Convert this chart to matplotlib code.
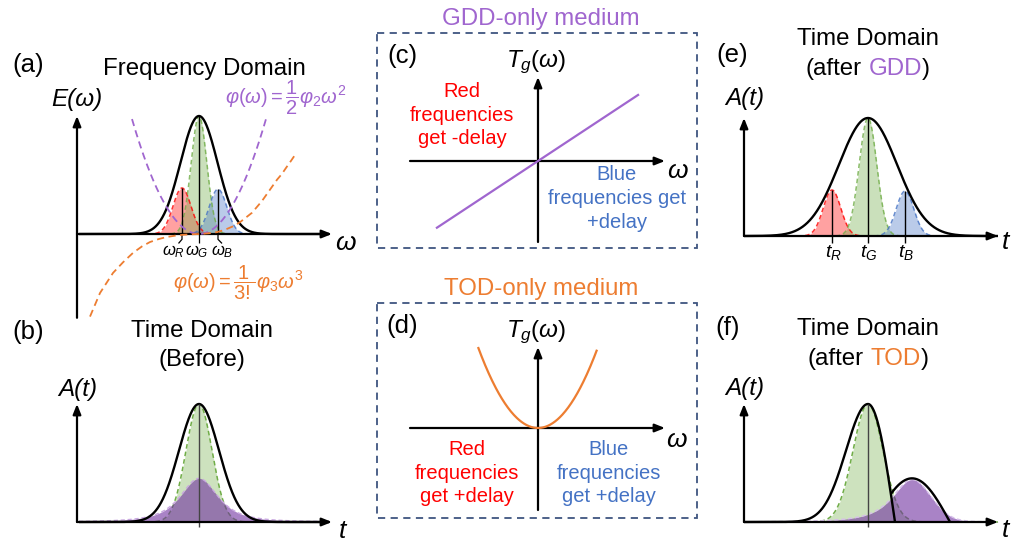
import numpy as np
import matplotlib
matplotlib.use('Agg')
import matplotlib.pyplot as plt
from matplotlib.patches import Rectangle

W, H = 1011, 544
plt.rcParams['font.family'] = ['Liberation Sans', 'DejaVu Sans']
plt.rcParams['mathtext.fontset'] = 'custom'
plt.rcParams['mathtext.rm'] = 'Liberation Sans'
plt.rcParams['mathtext.it'] = 'Liberation Sans:italic'
plt.rcParams['mathtext.bf'] = 'Liberation Sans:bold'
plt.rcParams['lines.solid_capstyle'] = 'butt'

# ------------------------------------------------------------------ data
# (a) frequency domain: spectral slices R, G, B  (center, width, amplitude)
slice_names = ['R', 'G', 'B']
freq_centers = [-1.7, 0.0, 1.9]
freq_widths = [0.9, 0.78, 0.88]
freq_amps = [0.39, 1.0, 0.38]
spectrum_width = 1.85
phi2 = 0.0434                      # GDD phase: 1/2 * phi2 * w^2
gdd_phase_range = [-6.7, 6.8]
tod_phase_w = [-10.9, -9.9, -8.6, -7.6, -6.6, -5.7, -4.9, -4.0, -3.2, -2.3, -1.5,
               -0.6, 0.1, 1.0, 1.8, 2.6, 3.4, 4.1, 4.7, 5.3, 5.8, 6.3, 6.8, 7.3,
               7.8, 8.3, 8.7, 9.2, 9.6]
tod_phase = [-0.70, -0.50, -0.33, -0.24, -0.16, -0.105, -0.068, -0.042, -0.025,
             -0.013, -0.006, -0.002, 0.0, 0.006, 0.016, 0.036, 0.065, 0.10, 0.14,
             0.18, 0.23, 0.28, 0.34, 0.40, 0.46, 0.51, 0.56, 0.62, 0.67]

# (b) time domain before
before_env_width = 2.0
before_green_width = 1.3
before_purple_amp = 0.37
before_purple_scale = 2.9

# (c) GDD group delay, (d) TOD group delay
gdd_slope = 0.66
gdd_delay_range = [-10.2, 10.1]
tod_curv = 0.225
tod_delay_range = [-6.0, 5.9]

# (e) time domain after GDD
gdd_env_width = 2.9
time_centers = [-3.6, 0.0, 3.7]
time_widths = [0.88, 0.88, 0.88]
time_amps = [0.39, 1.0, 0.38]

# (f) time domain after TOD
tod_main_left_width = 2.2
tod_main_zero = 2.7
tod_side_start, tod_side_end, tod_side_amp = 0.6, 8.2, 0.37
tod_green_width = 1.5
tod_purple_center, tod_purple_amp = 4.4, 0.36
tod_purple_left, tod_purple_right = 3.0, 1.9

# ------------------------------------------------------------------ colours
RED = '#FF0000'
GREEN = '#70AD47'
BLUE = '#4472C4'
PURPLE = '#A066CF'
DPURPLE = '#7030A0'
ORANGE = '#ED7D31'
BOX = '#3F5580'

fig = plt.figure(figsize=(W / 100, H / 100), dpi=100)
ov = fig.add_axes([0, 0, 1, 1])
ov.set_xlim(0, W)
ov.set_ylim(H, 0)
ov.axis('off')


def panel(left, top, right, bottom, ox, oy, ux=10.0, uy=118.0):
    ax = fig.add_axes([left / W, 1 - bottom / H, (right - left) / W, (bottom - top) / H])
    ax.set_xlim((left - ox) / ux, (right - ox) / ux)
    ax.set_ylim((oy - bottom) / uy, (oy - top) / uy)
    ax.axis('off')
    ax.patch.set_visible(False)
    return ax


def arrow(ax, x0, y0, x1, y1):
    ax.annotate('', xy=(x1, y1), xytext=(x0, y0),
                arrowprops=dict(arrowstyle='-|>,head_length=0.6,head_width=0.24',
                                color='k', lw=1.6, shrinkA=0, shrinkB=0), zorder=5)


def gauss(x, c, s, a):
    return a * np.exp(-(x - c) ** 2 / (2 * s ** 2))


def slice_fill(ax, x, y, col, alpha=0.37):
    ax.fill_between(x, 0, y, color=col, alpha=alpha, lw=0, zorder=2)
    ax.plot(x, y, color=col, lw=1.1, ls=(0, (3, 2)), alpha=0.8, zorder=3)


def text(x, y, s, size, color='k', ha='center', va='baseline', **kw):
    return ov.text(x, y, s, fontsize=size, color=color, ha=ha, va=va, **kw)


def mixed(xc, yb, parts, size):
    r = fig.canvas.get_renderer()
    objs = [text(0, yb, s, size, c, ha='left') for s, c in parts]
    ws = [o.get_window_extent(r).width for o in objs]
    sp = 0.28 * size * 100 / 72
    total = sum(ws) + sp
    x = xc - total / 2
    for i, (o, w) in enumerate(zip(objs, ws)):
        o.set_x(x)
        x += w + (sp if i == 0 else 0)


TS = 17.3   # title size
LS = 18.5   # panel letter size
DS = 14.5   # description size
AS = 17.5   # axis label size

# ------------------------------------------------------------------ (a)
ax = panel(40, 100, 360, 325, 199, 234)
w = np.linspace(-12, 13, 1500)
for c, s, a, col in zip(freq_centers, freq_widths, freq_amps, [RED, GREEN, BLUE]):
    slice_fill(ax, w, gauss(w, c, s, a), col)
    ax.plot([c, c], [0, a], color='k', lw=1.0, zorder=4)
ax.plot(w, gauss(w, 0, spectrum_width, 1.0), color='k', lw=1.7, zorder=4)
wg = np.linspace(*gdd_phase_range, 200)
ax.plot(wg, 0.5 * phi2 * wg ** 2, color=PURPLE, lw=1.3, ls=(0, (4, 2.5)), zorder=6)
ax.plot(tod_phase_w, tod_phase, color=ORANGE, lw=1.3, ls=(0, (4, 2.5)), zorder=6)
arrow(ax, -12.2, -0.71, -12.2, 1.0)
arrow(ax, -12.2, 0, 13.3, 0)
# leader lines from the axis to the slice labels
for c, dx in zip(freq_centers, [-0.35, 0.0, 0.4]):
    ax.plot([c, c, c + dx], [0, -0.045, -0.08], color='k', lw=0.9, zorder=5)

text(28, 72, '(a)', LS)
text(204, 75, 'Frequency Domain', TS)
text(77, 106, 'E(ω)', AS, style='italic')
text(345, 243, 'ω', 19, va='center', style='italic')
for xc, n in zip([173, 197, 222], slice_names):
    text(xc, 255, r'$\omega_%s$' % n, 12)
text(225, 98, r'$\varphi(\omega)=\dfrac{1}{2}\varphi_2\omega^2$', 14.5, PURPLE, ha='left', va='center')
text(173, 283, r'$\varphi(\omega)=\dfrac{1}{3!}\varphi_3\omega^3$', 14.5, ORANGE, ha='left', va='center')

# ------------------------------------------------------------------ (b)
ax = panel(40, 390, 360, 540, 199, 522)
t = np.linspace(-12, 13, 1500)
green_b = gauss(t, 0, before_green_width, 1.0)
ax.fill_between(t, 0, green_b, color=GREEN, alpha=0.35, lw=0, zorder=2)
ax.plot(t, green_b, color=GREEN, lw=1.1, ls=(0, (3, 2)), zorder=3)
purple_b = before_purple_amp * (1 + (t / before_purple_scale) ** 2) ** -1.5
ax.fill_between(t, 0, purple_b, color=DPURPLE, alpha=0.6, lw=0, zorder=3)
ax.plot(t, purple_b, color='#C9A8E0', lw=1.0, ls=(0, (3, 2)), zorder=3)
ax.plot(t, gauss(t, 0, before_env_width, 1.0), color='k', lw=1.7, zorder=4)
ax.plot([0, 0], [-0.04, 1.0], color='#444444', lw=1.0, zorder=4)
arrow(ax, -12.2, 0, -12.2, 1.0)
arrow(ax, -12.2, 0, 13.3, 0)
text(28, 339, '(b)', LS)
text(202, 337, 'Time Domain', TS)
text(202, 366, '(Before)', TS)
text(78, 396, 'A(t)', AS, style='italic')
text(342, 531, 't', 19, va='center', style='italic')

# ------------------------------------------------------------------ (c)
ov.add_patch(Rectangle((377, 33), 320, 215, fill=False, ec=BOX, lw=1.3, ls=(0, (4, 3))))
ax = panel(380, 60, 695, 246, 538, 161, 10, 10)
arrow(ax, 0, -8.1, 0, 8.4)
arrow(ax, -12.8, 0, 12.7, 0)
wd = np.linspace(*gdd_delay_range, 50)
ax.plot(wd, gdd_slope * wd, color=PURPLE, lw=1.6, zorder=6)
text(541, 25, 'GDD-only medium', TS, PURPLE)
text(402, 63, '(c)', LS)
text(536, 67, r'$\mathit{T_g(\omega)}$', 17.5)
text(677, 171, 'ω', 19, va='center', style='italic')
for yb, s in zip([97, 121, 144], ['Red', 'frequencies', 'get -delay']):
    text(462, yb, s, DS, RED)
for yb, s in zip([180, 204, 228], ['Blue', 'frequencies get', '+delay']):
    text(617, yb, s, DS, BLUE)

# ------------------------------------------------------------------ (d)
ov.add_patch(Rectangle((377, 303), 320, 215, fill=False, ec=BOX, lw=1.3, ls=(0, (4, 3))))
ax = panel(380, 330, 695, 516, 538, 428, 10, 10)
arrow(ax, 0, -8.2, 0, 8.1)
arrow(ax, -12.8, 0, 12.7, 0)
wd = np.linspace(*tod_delay_range, 200)
ax.plot(wd, tod_curv * wd ** 2, color=ORANGE, lw=1.6, zorder=6)
text(541, 295, 'TOD-only medium', TS, ORANGE)
text(402, 333, '(d)', LS)
text(536, 337, r'$\mathit{T_g(\omega)}$', 17.5)
text(676, 440, 'ω', 19, va='center', style='italic')
for yb, s in zip([455, 479, 502], ['Red', 'frequencies', 'get +delay']):
    text(467, yb, s, DS, RED)
for yb, s in zip([455, 479, 502], ['Blue', 'frequencies', 'get +delay']):
    text(609, yb, s, DS, BLUE)

# ------------------------------------------------------------------ (e)
ax = panel(710, 100, 1011, 270, 868, 236)
t = np.linspace(-12.4, 13, 1500)
for c, s, a, col in zip(time_centers, time_widths, time_amps, [RED, GREEN, BLUE]):
    slice_fill(ax, t, gauss(t, c, s, a), col)
    ax.plot([c, c], [-0.06, a], color='k', lw=1.0, zorder=4)
ax.plot(t, gauss(t, 0, gdd_env_width, 1.0), color='k', lw=1.7, zorder=4)
arrow(ax, -12.4, 0, -12.4, 1.0)
arrow(ax, -12.4, 0, 13.0, 0)
text(732, 62, '(e)', LS)
text(868, 45, 'Time Domain', TS)
mixed(868, 75, [('(after', 'k'), ('GDD', PURPLE), (')', 'k')], TS)
text(745, 105, 'A(t)', AS, style='italic')
text(1005, 242, 't', 19, va='center', style='italic')
for xc, n in zip(time_centers, slice_names):
    text(868 + xc * 10 + 1, 257, r'$t_%s$' % n, 14)

# ------------------------------------------------------------------ (f)
ax = panel(710, 390, 1011, 540, 868, 522)
t = np.linspace(-12.4, 13, 2500)
green_f = gauss(t, 0, tod_green_width, 1.0)
ax.fill_between(t, 0, green_f, color=GREEN, alpha=0.35, lw=0, zorder=2)
ax.plot(t, green_f, color=GREEN, lw=1.1, ls=(0, (3, 2)), zorder=3)
d = t - tod_purple_center
purple_f = np.where(d < 0,
                    tod_purple_amp * (1 + (d / tod_purple_left) ** 2) ** -1.5,
                    tod_purple_amp * (0.9 * np.exp(-d ** 2 / (2 * tod_purple_right ** 2))
                                      + 0.1 / (1 + (d / 2.0) ** 2)))
ax.fill_between(t, 0, purple_f, color=DPURPLE, alpha=0.6, lw=0, zorder=3)
ax.plot(t, purple_f, color='#D6BEEA', lw=1.0, ls=(0, (3, 2)), zorder=3)
main = np.where(t < 0, np.exp(-t ** 2 / (2 * tod_main_left_width ** 2)),
                np.where(t < tod_main_zero, np.cos(np.pi / 2 * t / tod_main_zero), 0.0))
tm = t <= tod_main_zero
ax.plot(t[tm], main[tm], color='k', lw=1.7, zorder=4)
side = np.where((t > tod_side_start) & (t < tod_side_end),
                tod_side_amp * np.sin(np.pi * (t - tod_side_start) / (tod_side_end - tod_side_start)), 0)
sm = (side >= main) & (t > tod_side_start) & (t <= tod_side_end)
ax.plot(t[sm], side[sm], color='k', lw=1.7, zorder=4)
ax.plot([0, 0], [-0.04, 1.0], color='#444444', lw=1.0, zorder=4)
arrow(ax, -12.4, 0, -12.4, 1.0)
arrow(ax, -12.4, 0, 13.0, 0)
text(728, 335, '(f)', LS)
text(868, 335, 'Time Domain', TS)
mixed(868, 365, [('(after', 'k'), ('TOD', ORANGE), (')', 'k')], TS)
text(745, 395, 'A(t)', AS, style='italic')
text(1005, 530, 't', 19, va='center', style='italic')

fig.savefig('out.png', dpi=100)
